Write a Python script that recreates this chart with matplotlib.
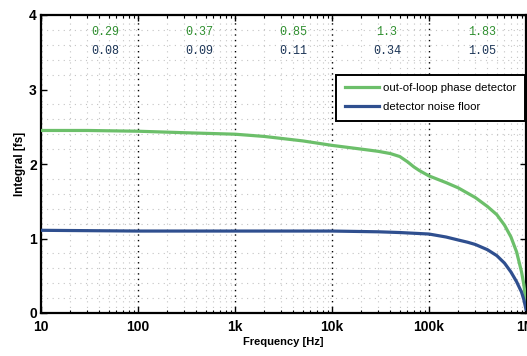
import matplotlib
matplotlib.use("Agg")
import matplotlib.pyplot as plt
from matplotlib.ticker import FixedLocator, NullFormatter, LogLocator
import numpy as np

freq_green = [10, 30, 100, 300, 1e3, 2e3, 5e3, 1e4, 2e4, 3e4, 4e4, 5e4, 6e4, 7e4, 8e4, 1e5,
              1.5e5, 2e5, 3e5, 4e5, 5e5, 6e5, 7e5, 8e5, 9e5, 9.5e5, 1e6]
val_green = [2.45, 2.45, 2.44, 2.42, 2.40, 2.37, 2.31, 2.25, 2.20, 2.17, 2.14, 2.10, 2.03, 1.96,
             1.91, 1.84, 1.75, 1.68, 1.55, 1.43, 1.32, 1.18, 1.02, 0.82, 0.55, 0.38, 0.15]

freq_blue = [10, 100, 1e3, 1e4, 3e4, 5e4, 1e5, 1.5e5, 2e5, 2.5e5, 3e5, 4e5, 5e5, 6e5, 7e5,
             8e5, 9e5, 9.5e5, 1e6]
val_blue = [1.11, 1.10, 1.10, 1.10, 1.09, 1.08, 1.06, 1.02, 0.98, 0.95, 0.92, 0.85, 0.77, 0.67,
            0.55, 0.42, 0.28, 0.18, 0.05]

band_x = [46, 430, 4.0e3, 3.7e4, 3.5e5]
band_green = ["0.29", "0.37", "0.85", "1.3", "1.83"]
band_blue = ["0.08", "0.09", "0.11", "0.34", "1.05"]

xticks = [10, 100, 1e3, 1e4, 1e5, 1e6]
xticklabels = ["10", "100", "1k", "10k", "100k", "1M"]
yticks = [0, 1, 2, 3, 4]

green = "#6cbf6a"
blue = "#2f4f8f"
tgreen = "#2f8f2f"
tblue = "#1c3557"

sans = ["Liberation Sans", "DejaVu Sans"]
mono = ["Liberation Mono", "DejaVu Sans Mono"]

fig = plt.figure(figsize=(5.27, 3.56), dpi=100)
ax = fig.add_axes([41/527, 43/356, 485/527, 298/356])

ax.plot(freq_green, val_green, color=green, lw=2.3, label="out-of-loop phase detector", zorder=3)
ax.plot(freq_blue, val_blue, color=blue, lw=2.3, label="detector noise floor", zorder=3)

ax.set_xscale("log")
ax.set_xlim(10, 1e6)
ax.set_ylim(0, 4)

ax.set_xticks(xticks)
ax.set_xticklabels(xticklabels)
ax.xaxis.set_minor_locator(LogLocator(base=10, subs=np.arange(2, 10), numticks=20))
ax.xaxis.set_minor_formatter(NullFormatter())
ax.set_yticks(yticks)
ax.yaxis.set_minor_locator(FixedLocator(np.arange(0, 4.01, 0.2)))

ax.tick_params(which="both", direction="in", top=True, right=True)
ax.tick_params(which="major", length=4, width=1.0, labelsize=10)
ax.tick_params(axis="x", which="major", pad=5)
ax.tick_params(axis="y", which="major", pad=3)
ax.tick_params(which="minor", length=2.5, width=0.8)
ax.tick_params(axis="y", which="minor", length=0)
for lab in ax.get_xticklabels() + ax.get_yticklabels():
    lab.set_fontweight("bold")
    lab.set_family(sans)

ax.grid(which="major", axis="x", color="black", linestyle=(0, (1, 3)), lw=1.0)
ax.grid(which="minor", axis="x", color="#c4c4c4", linestyle=(0, (1, 4)), lw=0.8)
ax.grid(which="minor", axis="y", color="#c4c4c4", linestyle=(0, (1, 4)), lw=0.8)

for s in ax.spines.values():
    s.set_linewidth(1.6)

ax.set_xlabel("Frequency [Hz]", fontsize=8, fontweight="bold", family=sans, labelpad=2)
ax.set_ylabel("Integral [fs]", fontsize=8.5, fontweight="bold", family=sans, labelpad=2)

for x, g, b in zip(band_x, band_green, band_blue):
    ax.text(x, 3.77, g, color=tgreen, ha="center", va="center", fontsize=8.5, family=mono)
    ax.text(x, 3.52, b, color=tblue, ha="center", va="center", fontsize=8.5, family=mono)

leg = ax.legend(loc="upper right", bbox_to_anchor=(0.998, 0.799), borderaxespad=0,
                frameon=True, fancybox=False, edgecolor="black", framealpha=1,
                borderpad=0.75, handlelength=3.0, handletextpad=0.4, labelspacing=0.75,
                prop={"family": sans, "size": 8.2})
leg.get_frame().set_linewidth(1.4)
leg.set_zorder(5)

fig.savefig("out.png", dpi=100)
